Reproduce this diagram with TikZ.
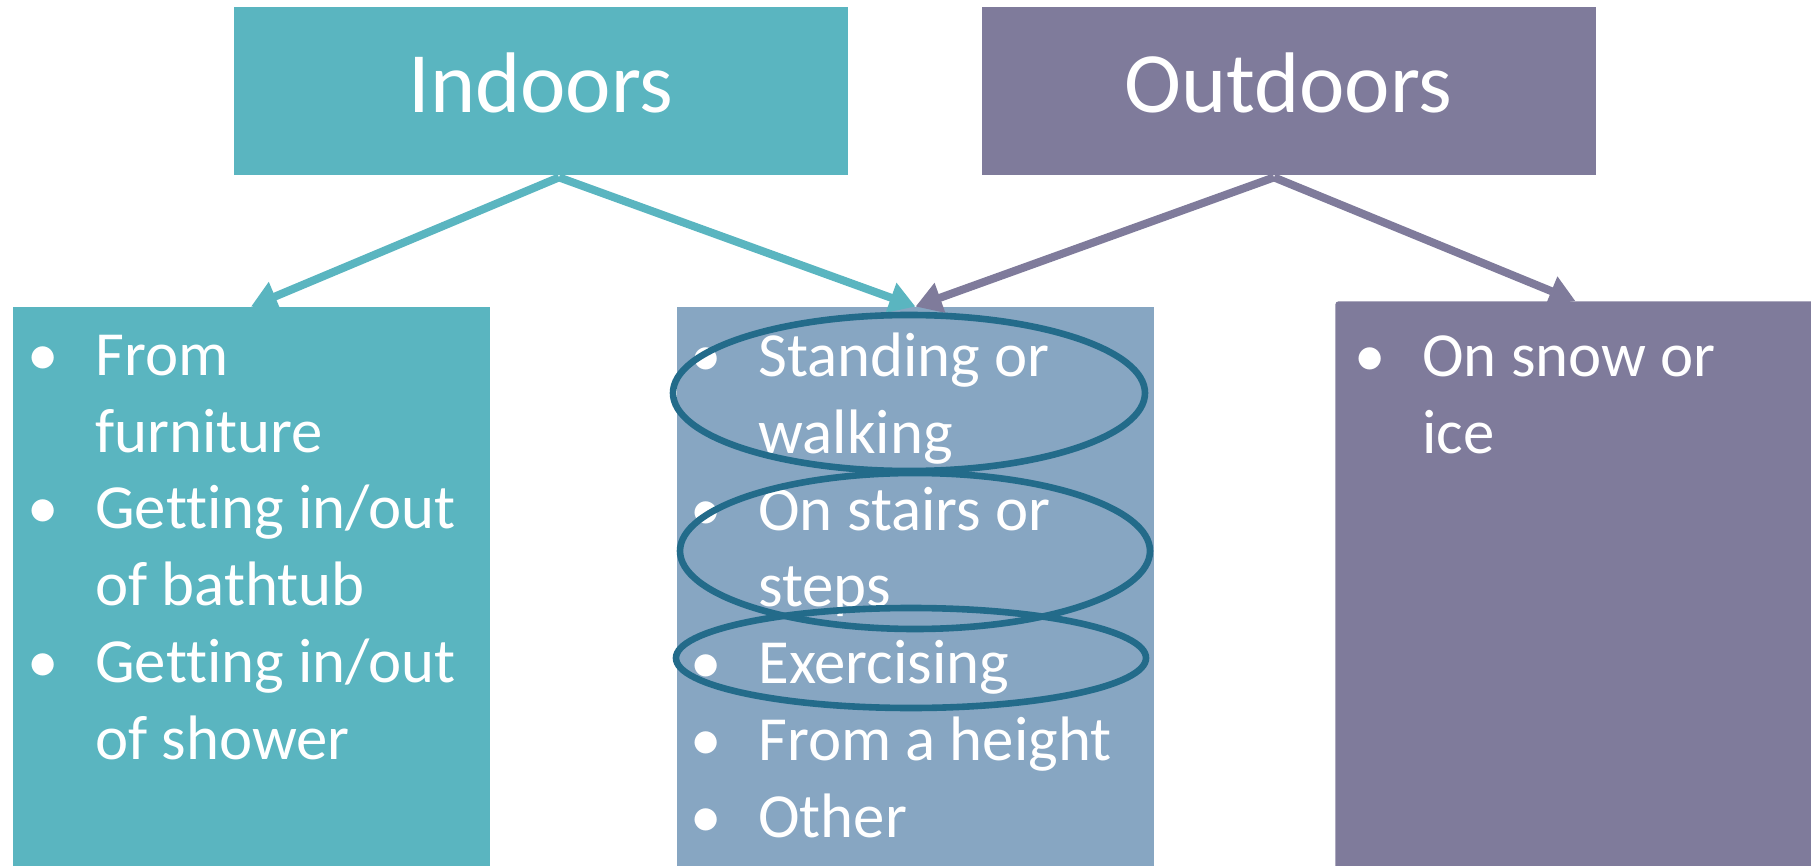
\documentclass[tikz,border=0pt]{standalone}
\usepackage{fontspec}
\setmainfont{Carlito}[Ligatures=NoCommon]
\usetikzlibrary{arrows.meta,calc}
\definecolor{indoor}{HTML}{5AB5C0}
\definecolor{outdoor}{HTML}{7F7B9B}
\definecolor{shared}{HTML}{87A6C2}
\definecolor{ring}{HTML}{236B8A}
\newcommand\bul{\makebox[0pt][r]{\textbullet\hspace{18.2pt}}}
\tikzset{
	titlebox/.style={rectangle,fill=#1,text=white,inner sep=0pt,minimum width=307pt,minimum height=84pt,text height=22pt,text depth=0pt,font=\fontsize{43}{52}\selectfont},
	panel/.style={rectangle,fill=#1,inner sep=0pt,minimum width=238.5pt,minimum height=279.5pt},
	items/.style={anchor=base west,align=left,inner sep=0pt,text=white,font=\fontsize{31.4}{38.35}\selectfont},
	link/.style={draw=#1,line width=4pt,-{Triangle[length=13pt,width=15pt]}},
	halo/.style={draw=ring,line width=3.3pt}
}

\begin{document}
\begin{tikzpicture}[x=0.5pt,y=-0.5pt]
	\useasboundingbox (0,0) rectangle (1811,866);
	\clip (0,0) rectangle (1811,866);
	
	%TOP BOXES
	\node[titlebox=indoor] (indoors) at (541,91) {Indoors};
	\node[titlebox=outdoor] (outdoors) at (1288.5,91) {Outdoors};
	
	%LOWER PANELS
	\node[panel=indoor] (inpanel) at (251,586.5) {};
	\node[panel=shared] (midpanel) at (915.5,586.5) {};
	\node[panel=outdoor,anchor=north west,minimum width=240pt,minimum height=290pt,rounded corners=1.5pt] (outpanel) at (1335,301) {};
	
	%ARROWS
	\coordinate (infork) at ($(indoors.south)+(18,2)$);
	\coordinate (outfork) at ($(outdoors.south)+(-14.5,2)$);
	\draw[link=indoor] (infork) -- (inpanel.north);
	\draw[link=indoor] (infork) -- (midpanel.north);
	\draw[link=outdoor] (outfork) -- (midpanel.north);
	\draw[link=outdoor] (outfork) -- (outpanel.north);
	
	%LISTS (anchored at the last line)
	\node[items] (inlist) at (95,759) {%
		\bul From\\ furniture\\
		\bul Getting in/out\\ of bathtub\\
		\bul Getting in/out\\ of shower};
	\node[items] (midlist) at (758,837) {%
		\bul Standing or\\ walking\\
		\bul On stairs or\\ steps\\
		\bul Exercising\\
		\bul From a height\\
		\bul Other};
	\node[items] (outlist) at (1422,453) {%
		\bul On snow or\\ ice};
	
	%CIRCLED ITEMS
	\draw[halo] (909,393) ellipse [x radius=118pt, y radius=39pt];
	\draw[halo] (915,551) ellipse [x radius=117.5pt, y radius=39pt];
	\draw[halo] (911,658) ellipse [x radius=117.5pt, y radius=25pt];
\end{tikzpicture}
\end{document}
